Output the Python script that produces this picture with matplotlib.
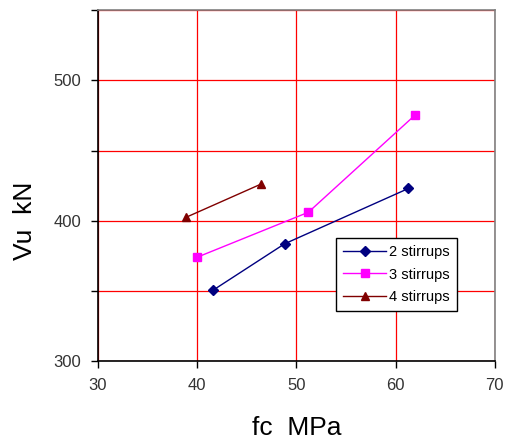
import matplotlib
matplotlib.use("Agg")
import matplotlib.pyplot as plt
from matplotlib.ticker import MultipleLocator, FuncFormatter

plt.rcParams['font.family'] = ['Liberation Sans', 'DejaVu Sans']

fc_2 = [41.6, 48.8, 61.3]
vu_2 = [350.5, 383.5, 423]
fc_3 = [40.0, 51.2, 62.0]
vu_3 = [374, 406, 475.5]
fc_4 = [38.9, 46.4]
vu_4 = [402.5, 426]

fig = plt.figure(figsize=(5.08, 4.43), dpi=100)
ax = fig.add_axes([0.193, 0.185, 0.781, 0.792])

ax.plot(fc_2, vu_2, color='#000080', lw=1, marker='D', ms=5, label='2 stirrups', zorder=3)
ax.plot(fc_3, vu_3, color='#FF00FF', lw=1, marker='s', ms=6, label='3 stirrups', zorder=3)
ax.plot(fc_4, vu_4, color='#800000', lw=1, marker='^', ms=6, label='4 stirrups', zorder=3)

ax.set_xlim(30, 70)
ax.set_ylim(300, 550)
ax.xaxis.set_major_locator(MultipleLocator(10))
ax.yaxis.set_major_locator(MultipleLocator(50))
ax.yaxis.set_major_formatter(FuncFormatter(lambda v, p: f'{int(v)}' if v % 100 == 0 else ''))
ax.grid(True, color='#FF0000', lw=0.9)
ax.set_axisbelow(True)

ax.tick_params(direction='out', length=5, width=1, labelsize=12, labelcolor='#333333', pad=7)
for s in ['left', 'bottom']:
    ax.spines[s].set_color('black')
    ax.spines[s].set_linewidth(1.2)
for s in ['top', 'right']:
    ax.spines[s].set_color('#808080')
    ax.spines[s].set_linewidth(1.2)

ax.set_xlabel('fc  MPa', fontsize=19, labelpad=17)
ax.set_ylabel('Vu  kN', fontsize=19)
ax.yaxis.set_label_coords(-0.155, 0.40)

leg = ax.legend(loc='upper left', bbox_to_anchor=(0.6, 0.35), fontsize=10.5,
                frameon=True, fancybox=False, edgecolor='black', framealpha=1,
                borderpad=0.45, handlelength=3.0, labelspacing=0.6, handletextpad=0.2,
                borderaxespad=0)
leg.get_frame().set_linewidth(1.0)

fig.savefig('out.png', dpi=100)
